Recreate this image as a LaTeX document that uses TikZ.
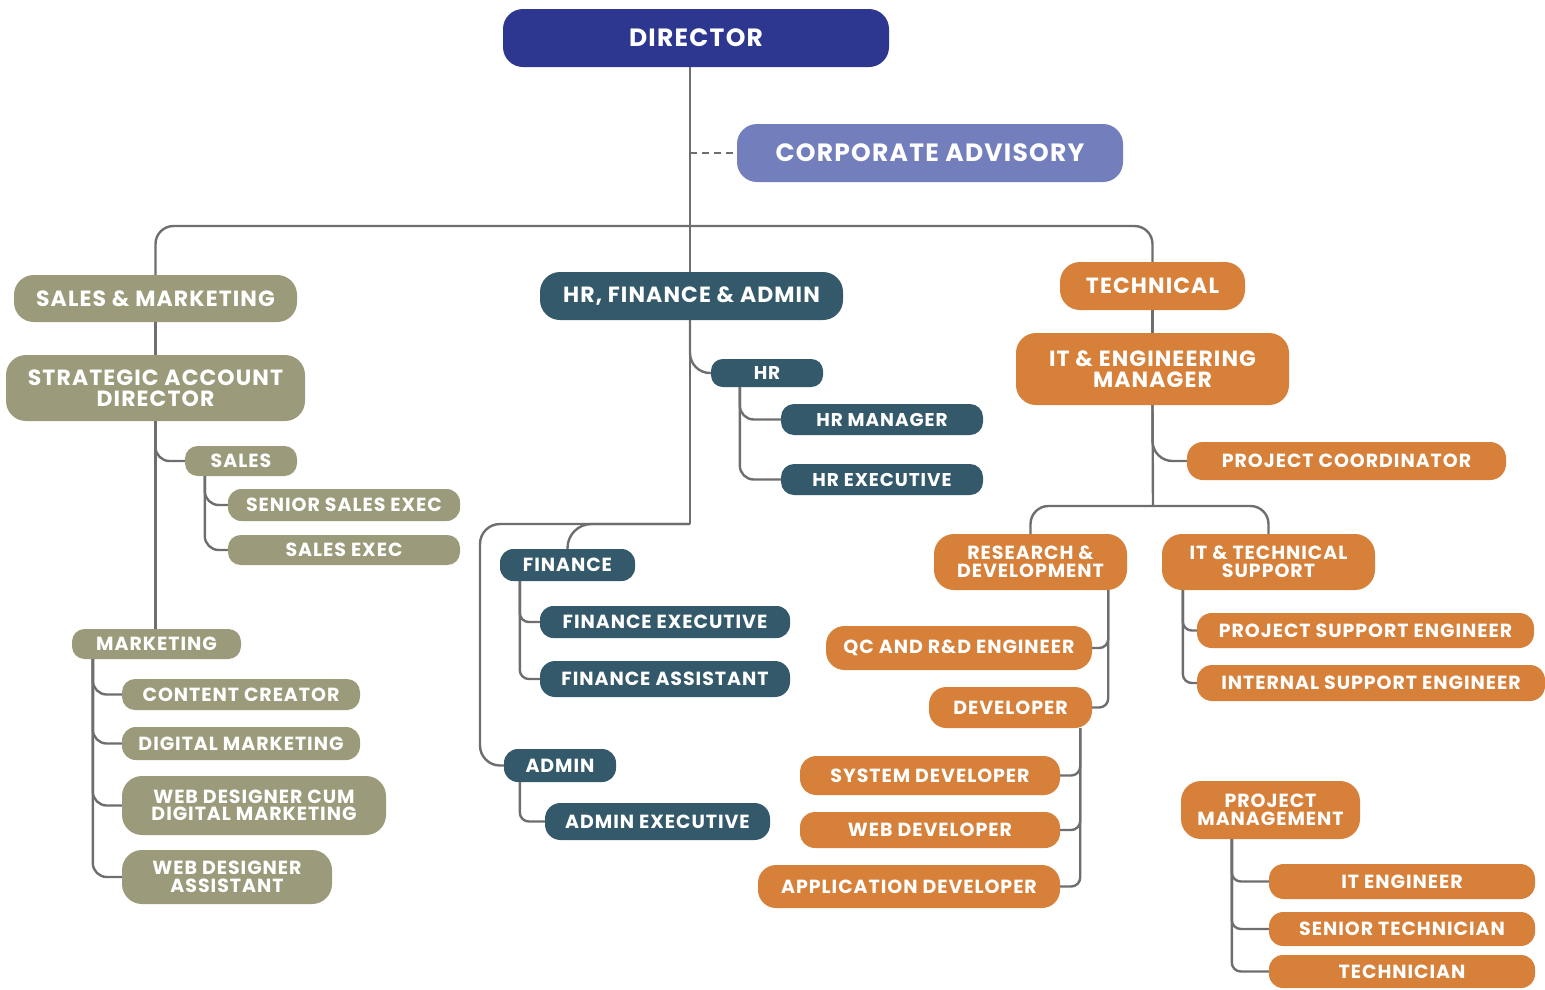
\documentclass[tikz,border=0pt]{standalone}
\usepackage{fontspec}
\setmainfont{Poppins}[LetterSpace=5]
\usetikzlibrary{calc}
\definecolor{cdir}{HTML}{2E3790}
\definecolor{cadv}{HTML}{737EBD}
\definecolor{col}{HTML}{9B9B7B}
\definecolor{cteal}{HTML}{33596B}
\definecolor{corg}{HTML}{D6803A}
\definecolor{cline}{HTML}{6E6E6E}
\tikzset{
  box/.style={inner sep=0pt, text=white, align=center, font=\bfseries},
  fa/.style={font=\fontsize{25}{24}\bfseries\selectfont},
  fb/.style={font=\fontsize{22}{20.5}\bfseries\selectfont},
  fc/.style={font=\fontsize{19}{17.5}\bfseries\selectfont},
  fd/.style={font=\fontsize{18.5}{17}\bfseries\selectfont},
  ol/.style={fill=col}, tl/.style={fill=cteal}, og/.style={fill=corg},
  conn/.style={draw=cline, line width=2.4pt, rounded corners=14pt},
  conns/.style={draw=cline, line width=2.4pt, rounded corners=9pt},
}
\newcommand\bx[7]{%
  \pgfmathsetmacro\rr{min(0.42*(#6-#4),20)}%
  \node[box,#2,rounded corners=\rr pt,minimum width={(#5-#3)*1pt},minimum height={(#6-#4)*1pt}] (#1) at ({(#3+#5)/2},{(#4+#6)/2}) {#7};}
\begin{document}
\begin{tikzpicture}[x=1pt,y=-1pt]
\useasboundingbox (0,0) rectangle (1545,989);
% top
\bx{dir}{fill=cdir,fa}{503}{9}{889}{67}{DIRECTOR}
\bx{adv}{fill=cadv,fa}{737}{124}{1123}{182}{CORPORATE ADVISORY}
% sales & marketing
\bx{sm}{ol,fb}{14}{275}{297}{322}{SALES \& MARKETING}
\bx{sad}{ol,fb}{6}{355}{305}{421}{STRATEGIC ACCOUNT\\DIRECTOR}
\bx{sales}{ol,fc}{185}{446}{297}{476}{SALES}
\bx{sse}{ol,fc}{228}{489}{460}{521}{SENIOR SALES EXEC}
\bx{se}{ol,fc}{228}{535}{460}{565}{SALES EXEC}
\bx{mkt}{ol,fc}{72}{629}{241}{659}{MARKETING}
\bx{cc}{ol,fc}{122}{679}{360}{710}{CONTENT CREATOR}
\bx{dm}{ol,fc}{122}{727}{360}{760}{DIGITAL MARKETING}
\bx{wdc}{ol,fc}{122}{776}{386}{835}{WEB DESIGNER CUM\\DIGITAL MARKETING}
\bx{wda}{ol,fc}{122}{850}{332}{904}{WEB DESIGNER\\ASSISTANT}
% hr finance admin
\bx{hfa}{tl,fb}{540}{272}{843}{320}{HR, FINANCE \& ADMIN}
\bx{hr}{tl,fd}{711}{359}{823}{387}{HR}
\bx{hrm}{tl,fd}{781}{404}{983}{435}{HR MANAGER}
\bx{hre}{tl,fd}{781}{464}{983}{495}{HR EXECUTIVE}
\bx{fin}{tl,fc}{500}{549}{635}{581}{FINANCE}
\bx{fe}{tl,fc}{540}{606}{790}{638}{FINANCE EXECUTIVE}
\bx{fas}{tl,fc}{540}{661}{790}{697}{FINANCE ASSISTANT}
\bx{adm}{tl,fc}{504}{749}{616}{782}{ADMIN}
\bx{ae}{tl,fc}{545}{803}{770}{840}{ADMIN EXECUTIVE}
% technical
\bx{tech}{og,fb}{1060}{262}{1245}{310}{TECHNICAL}
\bx{itm}{og,fb}{1016}{333}{1289}{405}{IT \& ENGINEERING\\MANAGER}
\bx{pc}{og,fc}{1187}{442}{1506}{480}{PROJECT COORDINATOR}
\bx{rd}{og,fc}{934}{534}{1127}{590}{RESEARCH \&\\DEVELOPMENT}
\bx{its}{og,fc}{1162}{534}{1375}{590}{IT \& TECHNICAL\\SUPPORT}
\bx{qc}{og,fc}{826}{626}{1092}{670}{QC AND R\&D ENGINEER}
\bx{dev}{og,fc}{929}{687}{1092}{728}{DEVELOPER}
\bx{sysd}{og,fc}{800}{756}{1060}{795}{SYSTEM DEVELOPER}
\bx{webd}{og,fc}{800}{812}{1060}{848}{WEB DEVELOPER}
\bx{appd}{og,fc}{758}{865}{1060}{908}{APPLICATION DEVELOPER}
\bx{pse}{og,fc}{1197}{613}{1534}{648}{PROJECT SUPPORT ENGINEER}
\bx{ise}{og,fc}{1197}{665}{1545}{701}{INTERNAL SUPPORT ENGINEER}
\bx{pm}{og,fc}{1181}{781}{1360}{839}{PROJECT\\MANAGEMENT}
\bx{ite}{og,fc}{1269}{864}{1535}{899}{IT ENGINEER}
\bx{st}{og,fc}{1269}{912}{1535}{946}{SENIOR TECHNICIAN}
\bx{tec}{og,fc}{1269}{955}{1535}{988}{TECHNICIAN}
% connectors
\coordinate (bus) at (690,226);
\coordinate (advj) at (690,153);
\coordinate (fa) at (690,524);
\coordinate (faL) at (480,524);
\coordinate (rdbus) at (1153,506);
\begin{scope}[on background layer/.try]
\draw[conn] (dir.south -| bus) -- (hfa.north -| bus);
\draw[draw=cline, line width=2.4pt, dash pattern=on 7pt off 5pt] (advj) -- (adv.west);
\draw[conn, rounded corners=18pt] (sm.north) |- (bus) -| (tech.north);
\draw[conn] (sm.south) -- (sad.north);
\draw[conn] (sad.south) -- (sad.south |- mkt.north);
\draw[conn] (sad.south) |- (sales.west);
\draw[conn] ($(sales.south west)+(20,0)$) |- (sse.west);
\draw[conn] ($(sales.south west)+(20,0)$) |- (se.west);
\draw[conn] ($(mkt.south west)+(21,0)$) |- (cc.west);
\draw[conn] ($(mkt.south west)+(21,0)$) |- (dm.west);
\draw[conn] ($(mkt.south west)+(21,0)$) |- (wdc.west);
\draw[conn] ($(mkt.south west)+(21,0)$) |- (wda.west);
\draw[conn, rounded corners=20pt] (hfa.south -| fa) |- (hr.west);
\draw[conn, rounded corners=0pt] (hfa.south -| fa) -- (fa);
\draw[conn, rounded corners=20pt] (fa) -- (faL) |- (adm.west);
\draw[conn, rounded corners=24pt] (fin.north) |- (fa);
\draw[conn] ($(hr.south west)+(29,0)$) |- (hrm.west);
\draw[conn] ($(hr.south west)+(29,0)$) |- (hre.west);
\draw[conns] ($(fin.south west)+(20,0)$) |- (fe.west);
\draw[conns] ($(fin.south west)+(20,0)$) |- (fas.west);
\draw[conns] ($(adm.south west)+(16,0)$) |- (ae.west);
\draw[conn] (tech.south) -- (itm.north);
\draw[conn] (itm.south) -- (rdbus);
\draw[conn, rounded corners=20pt] (itm.south) |- (pc.west);
\draw[conn, rounded corners=18pt] (rd.north) |- (rdbus) -| (its.north);
\draw[conns] ($(rd.south east)+(-19,0)$) |- (qc.east);
\draw[conns] ($(rd.south east)+(-19,0)$) |- (dev.east);
\draw[conns] ($(dev.south east)+(-12,0)$) |- (sysd.east);
\draw[conns] ($(dev.south east)+(-12,0)$) |- (webd.east);
\draw[conns] ($(dev.south east)+(-12,0)$) |- (appd.east);
\draw[conns] ($(its.south west)+(21,0)$) |- (pse.west);
\draw[conns] ($(its.south west)+(21,0)$) |- (ise.west);
\draw[conns] ($(pm.south west)+(51,0)$) |- (ite.west);
\draw[conns] ($(pm.south west)+(51,0)$) |- (st.west);
\draw[conns] ($(pm.south west)+(51,0)$) |- (tec.west);
\end{scope}
\end{tikzpicture}
\end{document}
